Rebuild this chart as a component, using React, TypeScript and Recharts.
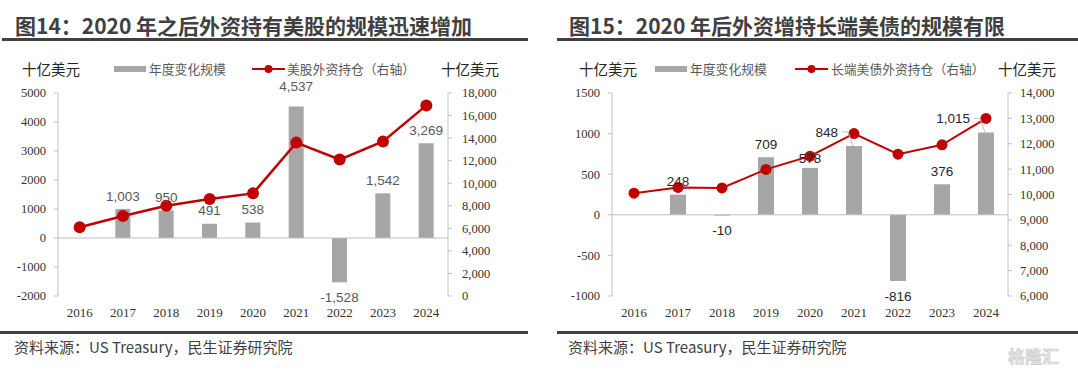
import React from "react";
import {
  ComposedChart,
  Bar,
  Line,
  XAxis,
  YAxis,
  ReferenceLine,
  LabelList,
} from "recharts";

// shared categories
const years = ["2016", "2017", "2018", "2019", "2020", "2021", "2022", "2023", "2024"];

// 图14: equities
const equityChange = [null, 1003, 950, 491, 538, 4537, -1528, 1542, 3269];
const equityHoldings = [6100, 7100, 8000, 8600, 9100, 13600, 12100, 13700, 16900];
const equityLeftTicks = [-2000, -1000, 0, 1000, 2000, 3000, 4000, 5000];
const equityRightTicks = [0, 2000, 4000, 6000, 8000, 10000, 12000, 14000, 16000, 18000];

// 图15: long-term treasuries
const bondChange = [null, 248, -10, 709, 578, 848, -816, 376, 1015];
const bondHoldings = [10050, 10280, 10260, 10990, 11510, 12400, 11590, 11960, 13000];
const bondLeftTicks = [-1000, -500, 0, 500, 1000, 1500];
const bondRightTicks = [6000, 7000, 8000, 9000, 10000, 11000, 12000, 13000, 14000];

const RED = "#c00000";
const BAR = "#a6a6a6";
const AXIS = "#bfbfbf";
const CJK = '"Noto Sans CJK SC", "Noto Sans", sans-serif';
const SERIF = '"Liberation Serif", "DejaVu Serif", serif';
const SANS = '"Liberation Sans", Arial, sans-serif';

const comma = (v: number) => v.toLocaleString("en-US");

type LabelOpts = {
  color: string;
  values: (number | null)[];
  nudges?: Record<string, number>;
  leaders?: string[];
};

// labels keyed by year (LabelList skips the empty 2016 bar, so its index is not reliable)
const makeBarLabel = ({ color, values, nudges = {}, leaders = [] }: LabelOpts) => (props: any) => {
  const vb = props.viewBox ?? props;
  const { x, y, width, height } = vb;
  const value = props.value;
  if (value === null || value === undefined || value === "") return null;
  const year = years[values.indexOf(Number(value))];
  const cx = x + width / 2;
  const top = Math.min(y, y + height);
  const bottom = Math.max(y, y + height);
  const text = comma(Number(value));
  const textProps = { fill: color, fontSize: 13.5, fontFamily: SANS };
  if (leaders.includes(year)) {
    const ty = top - 14;
    return (
      <g>
        <polyline
          points={`${cx - 12},${ty} ${cx - 6},${ty} ${cx - 1},${top}`}
          fill="none"
          stroke={AXIS}
          strokeWidth={1}
        />
        <text x={cx - 16} y={ty} dy="0.35em" textAnchor="end" {...textProps}>
          {text}
        </text>
      </g>
    );
  }
  const cy = Number(value) >= 0 ? top - 13 + (nudges[year] ?? 0) : bottom + 15;
  return (
    <text x={cx} y={cy} dy="0.35em" textAnchor="middle" {...textProps}>
      {text}
    </text>
  );
};

type PanelProps = {
  left: number;
  width: number;
  title: string;
  lineName: string;
  change: (number | null)[];
  holdings: number[];
  leftTicks: number[];
  rightTicks: number[];
  yLeftWidth: number;
  yRightWidth: number;
  rightTickMargin: number;
  barSize: number;
  dotR: number;
  lineW: number;
  labelColor: string;
  nudges?: Record<string, number>;
  leaders?: string[];
  legend: { unitL: number; swatch: number; barText: number; lineSwatch: number; lineText: number; unitR: number };
  ruleLeft: number;
  ruleRight: number;
  botRuleLeft: number;
  botRuleRight: number;
  titleX: number;
};

function Panel(p: PanelProps) {
  const data = years.map((year, i) => ({ year, change: p.change[i], holdings: p.holdings[i] }));
  const tickStyle = { fill: "#333", fontSize: 12.5, fontFamily: SERIF };
  const unitStyle: React.CSSProperties = {
    position: "absolute",
    top: 60,
    fontSize: 14.5,
    color: "#262626",
    fontFamily: CJK,
    lineHeight: "18px",
    whiteSpace: "nowrap",
  };
  const legendText: React.CSSProperties = {
    position: "absolute",
    top: 60,
    fontSize: 12.8,
    color: "#595959",
    fontFamily: CJK,
    lineHeight: "18px",
    whiteSpace: "nowrap",
  };
  return (
    <>
      <div
        style={{
          position: "absolute",
          left: p.titleX,
          top: 11,
          fontSize: 21,
          fontWeight: 700,
          color: "#404040",
          fontFamily: CJK,
          lineHeight: "28px",
          whiteSpace: "nowrap",
        }}
      >
        {p.title}
      </div>
      <div style={{ position: "absolute", left: p.ruleLeft, width: p.ruleRight - p.ruleLeft, top: 38, height: 2.5, background: "#404040" }} />

      <div style={{ ...unitStyle, left: p.legend.unitL }}>十亿美元</div>
      <div style={{ position: "absolute", left: p.legend.swatch, top: 66, width: 32, height: 6, background: BAR }} />
      <div style={{ ...legendText, left: p.legend.barText }}>年度变化规模</div>
      <svg style={{ position: "absolute", left: p.legend.lineSwatch, top: 63 }} width={33} height={12}>
        <line x1={0} y1={6} x2={33} y2={6} stroke={RED} strokeWidth={2} />
        <circle cx={16.5} cy={6} r={4} fill={RED} />
      </svg>
      <div style={{ ...legendText, left: p.legend.lineText }}>{p.lineName}</div>
      <div style={{ ...unitStyle, left: p.legend.unitR }}>十亿美元</div>

      <div style={{ position: "absolute", left: p.left, top: 80 }}>
        <ComposedChart width={p.width} height={240} data={data} margin={{ top: 13, right: 0, bottom: 0, left: 0 }}>
          <XAxis
            dataKey="year"
            axisLine={false}
            tickLine={false}
            tickSize={0}
            tickMargin={12}
            height={24}
            interval={0}
            tick={{ ...tickStyle, fontSize: 13 }}
          />
          <YAxis
            yAxisId="left"
            width={p.yLeftWidth}
            domain={[p.leftTicks[0], p.leftTicks[p.leftTicks.length - 1]]}
            ticks={p.leftTicks}
            interval={0}
            stroke={AXIS}
            tickSize={4}
            tickMargin={8}
            tick={tickStyle}
          />
          <YAxis
            yAxisId="right"
            orientation="right"
            width={p.yRightWidth}
            domain={[p.rightTicks[0], p.rightTicks[p.rightTicks.length - 1]]}
            ticks={p.rightTicks}
            interval={0}
            stroke={AXIS}
            tickSize={4}
            tickMargin={p.rightTickMargin}
            tick={tickStyle}
            tickFormatter={(v: number) => comma(v)}
          />
          <ReferenceLine yAxisId="left" y={0} stroke={AXIS} strokeWidth={1} />
          <Bar yAxisId="left" dataKey="change" fill={BAR} barSize={p.barSize} isAnimationActive={false}>
            <LabelList
              dataKey="change"
              content={makeBarLabel({ color: p.labelColor, values: p.change, nudges: p.nudges, leaders: p.leaders })}
            />
          </Bar>
          <Line
            yAxisId="right"
            dataKey="holdings"
            stroke={RED}
            strokeWidth={p.lineW}
            dot={{ r: p.dotR, fill: RED, stroke: RED, strokeWidth: 0 }}
            isAnimationActive={false}
          />
        </ComposedChart>
      </div>

      <div style={{ position: "absolute", left: p.botRuleLeft, width: p.botRuleRight - p.botRuleLeft, top: 331, height: 2.5, background: "#404040" }} />
      <div
        style={{
          position: "absolute",
          left: p.titleX - 1,
          top: 337,
          fontSize: 15,
          color: "#404040",
          fontFamily: CJK,
          lineHeight: "20px",
          whiteSpace: "nowrap",
        }}
      >
        资料来源：US Treasury，民生证券研究院
      </div>
    </>
  );
}

export default function App() {
  return (
    <div
      style={{
        position: "absolute",
        left: 0,
        top: 0,
        width: 1078,
        height: 371,
        background: "#fff",
        overflow: "hidden",
      }}
    >
      <Panel
        left={0}
        width={540}
        title="图14：2020 年之后外资持有美股的规模迅速增加"
        lineName="美股外资持仓（右轴）"
        change={equityChange}
        holdings={equityHoldings}
        leftTicks={equityLeftTicks}
        rightTicks={equityRightTicks}
        yLeftWidth={58}
        yRightWidth={92}
        rightTickMargin={10}
        barSize={15}
        dotR={6}
        lineW={2.5}
        labelColor="#595959"
        nudges={{ "2021": -7 }}
        legend={{ unitL: 22, swatch: 114, barText: 149, lineSwatch: 252, lineText: 287, unitR: 441 }}
        ruleLeft={2}
        ruleRight={528}
        botRuleLeft={0}
        botRuleRight={528}
        titleX={15}
      />
      <Panel
        left={540}
        width={538}
        title="图15：2020 年后外资增持长端美债的规模有限"
        lineName="长端美债外资持仓（右轴）"
        change={bondChange}
        holdings={bondHoldings}
        leftTicks={bondLeftTicks}
        rightTicks={bondRightTicks}
        yLeftWidth={72}
        yRightWidth={70}
        rightTickMargin={8}
        barSize={16}
        dotR={5.5}
        lineW={2}
        labelColor="#262626"
        nudges={{ "2020": 3 }}
        leaders={["2021", "2024"]}
        legend={{ unitL: 579, swatch: 655, barText: 690, lineSwatch: 795, lineText: 831, unitR: 998 }}
        ruleLeft={557}
        ruleRight={1078}
        botRuleLeft={557}
        botRuleRight={1078}
        titleX={569}
      />
      <div
        style={{
          position: "absolute",
          left: 1008,
          top: 346,
          fontSize: 17,
          color: "#e6e6e6",
          fontFamily: CJK,
          fontWeight: 700,
          lineHeight: "20px",
          WebkitTextStroke: "0.6px #c8c8c8",
          whiteSpace: "nowrap",
        }}
      >
        格隆汇
      </div>
    </div>
  );
}
